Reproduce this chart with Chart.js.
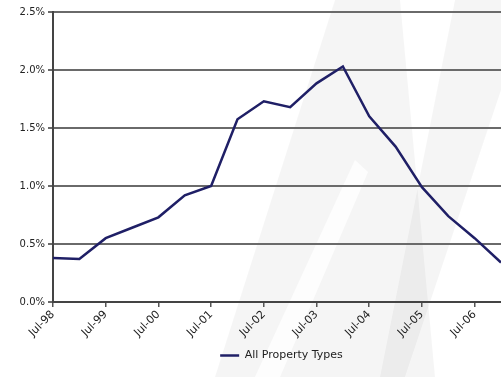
<!DOCTYPE html>
<html>
<head>
<meta charset="utf-8">
<title>All Property Types</title>
<script src="https://cdn.jsdelivr.net/npm/chart.js@4.4.1/dist/chart.umd.min.js"></script>
<style>
    html, body { margin: 0; padding: 0; background: #fff; overflow: hidden; }
    .chart-wrap { position: relative; width: 501px; height: 377px; }
</style>
</head>
<body>
<div class="chart-wrap"><canvas id="propertyChart"></canvas></div>
<script>
// Semiannual readings, months counted from Jul-98.
const periods = ['Jul-98', 'Jan-99', 'Jul-99', 'Jan-00', 'Jul-00', 'Jan-01', 'Jul-01', 'Jan-02', 'Jul-02',
    'Jan-03', 'Jul-03', 'Jan-04', 'Jul-04', 'Jan-05', 'Jul-05', 'Jan-06', 'Jul-06', 'Jan-07'];
const monthOffsets = [0, 6, 12, 18, 24, 30, 36, 42, 48, 54, 60, 66, 72, 78, 84, 90, 96, 102];
const allPropertyTypes = [0.38, 0.37, 0.55, 0.64, 0.73, 0.92, 1.00, 1.575, 1.73,
    1.68, 1.885, 2.03, 1.60, 1.34, 0.99, 0.74, 0.55, 0.34];
const xTickLabels = ['Jul-98', 'Jul-99', 'Jul-00', 'Jul-01', 'Jul-02', 'Jul-03', 'Jul-04', 'Jul-05', 'Jul-06'];
const seriesName = 'All Property Types';

(function () {
    // faint watermark shapes behind the plot
    const watermark = {
        id: 'watermark',
        beforeDraw(chart) {
            const ctx = chart.ctx;
            ctx.save();
            ctx.fillStyle = 'rgba(0, 0, 0, 0.04)';
            ctx.beginPath();
            ctx.moveTo(215, 377);
            ctx.lineTo(335, 0);
            ctx.lineTo(400, 0);
            ctx.lineTo(435, 377);
            ctx.closePath();
            ctx.fill();
            ctx.beginPath();
            ctx.moveTo(455, 0);
            ctx.lineTo(501, 0);
            ctx.lineTo(501, 90);
            ctx.lineTo(405, 377);
            ctx.lineTo(380, 377);
            ctx.closePath();
            ctx.fill();
            ctx.fillStyle = 'rgba(255, 255, 255, 0.8)';
            ctx.beginPath();
            ctx.moveTo(255, 377);
            ctx.lineTo(355, 160);
            ctx.lineTo(368, 172);
            ctx.lineTo(280, 377);
            ctx.closePath();
            ctx.fill();
            ctx.restore();
        },
    };

    // the original legend sits centred on a wider plot than the visible crop
    const legendShift = {
        id: 'legendShift',
        afterLayout(chart) {
            if (!chart.legend) return;
            chart.legend.left += 31;
            chart.legend.right += 31;
        },
    };

    const points = monthOffsets.map((m, i) => ({ x: m, y: allPropertyTypes[i] }));
    const textColor = '#222';

    new Chart(document.getElementById('propertyChart'), {
        type: 'line',
        data: {
            datasets: [
                {
                    label: seriesName,
                    data: points,
                    borderColor: '#1f1f66',
                    backgroundColor: '#1f1f66',
                    borderWidth: 2.5,
                    pointRadius: 0,
                    tension: 0,
                },
            ],
        },
        options: {
            responsive: true,
            maintainAspectRatio: false,
            animation: false,
            layout: { padding: { top: 12, right: 0, bottom: 6, left: 0 } },
            plugins: {
                tooltip: { enabled: false },
                legend: {
                    position: 'bottom',
                    labels: {
                        usePointStyle: true,
                        pointStyle: 'line',
                        pointStyleWidth: 19,
                        padding: 10,
                        color: textColor,
                        font: { family: 'DejaVu Sans', size: 11 },
                    },
                },
            },
            scales: {
                x: {
                    type: 'linear',
                    min: 0,
                    max: 102,
                    afterBuildTicks: (scale) => {
                        scale.ticks = scale.ticks.filter((t) => t.value % 12 === 0);
                    },
                    afterFit: (scale) => {
                        scale.height = 38;
                        scale.paddingRight = 0;
                    },
                    grid: { drawOnChartArea: false, tickLength: 5, color: '#555', lineWidth: 1.5 },
                    border: { color: '#444', width: 2 },
                    ticks: {
                        stepSize: 12,
                        autoSkip: false,
                        maxRotation: 45,
                        minRotation: 45,
                        padding: 1,
                        color: textColor,
                        font: { family: 'DejaVu Sans', size: 11 },
                        callback: (value) => xTickLabels[value / 12] ?? '',
                    },
                },
                y: {
                    min: 0,
                    max: 2.5,
                    afterFit: (scale) => { scale.width = 53; },
                    grid: { color: '#6a6a6a', lineWidth: 2, tickLength: 5 },
                    border: { color: '#444', width: 2 },
                    ticks: {
                        stepSize: 0.5,
                        padding: 3,
                        color: textColor,
                        font: { family: 'DejaVu Sans', size: 10 },
                        callback: (value) => value.toFixed(1) + '%',
                    },
                },
            },
        },
        plugins: [watermark, legendShift],
    });
})();
</script>
</body>
</html>
